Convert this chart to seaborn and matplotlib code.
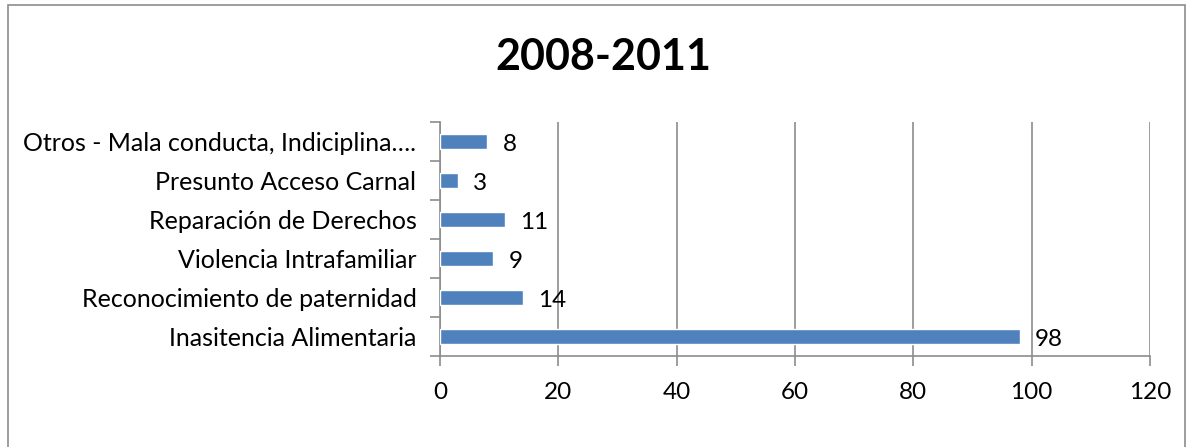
import numpy as np
import pandas as pd
import matplotlib
matplotlib.use("Agg")
import matplotlib.pyplot as plt
import seaborn as sns
from matplotlib.patches import Rectangle

categories = [
    "Otros - Mala conducta, Indiciplina….",
    "Presunto Acceso Carnal",
    "Reparación de Derechos",
    "Violencia Intrafamiliar",
    "Reconocimiento de paternidad",
    "Inasitencia Alimentaria",
]
values = [8, 3, 11, 9, 14, 98]
xticks = [0, 20, 40, 60, 80, 100, 120]
title = "2008-2011"

sns.set_style("white")
plt.rcParams["font.family"] = ["Lato", "DejaVu Sans"]
plt.rcParams["text.color"] = "black"
plt.rcParams["xtick.labelcolor"] = "black"
plt.rcParams["ytick.labelcolor"] = "black"

df = pd.DataFrame({"cat": categories, "val": values})

fig = plt.figure(figsize=(11.87, 4.47), dpi=100)
ax = fig.add_axes([440 / 1187, 1 - 356 / 447, 710 / 1187, 234 / 447])

sns.barplot(data=df, x="val", y="cat", color="#4F81BD", width=0.4,
            saturation=1, ax=ax, zorder=3)

ax.set_xlim(0, 120)
ax.set_xticks(xticks)
ax.set_xlabel("")
ax.set_ylabel("")
ax.grid(axis="x", color="#8c8c8c", linewidth=1.2, zorder=0)
ax.grid(axis="y", visible=False)

for s in ["top", "right"]:
    ax.spines[s].set_visible(False)
for s in ["left", "bottom"]:
    ax.spines[s].set_color("#8c8c8c")
    ax.spines[s].set_linewidth(1.2)

ax.tick_params(axis="x", direction="out", length=7, width=1.2, color="#8c8c8c",
               labelsize=17.5, pad=12, bottom=True)
ax.tick_params(axis="y", which="major", length=0, labelsize=18, pad=17)
n = len(categories)
ax.set_yticks(np.arange(-0.5, n, 1), minor=True)
ax.tick_params(axis="y", which="minor", direction="out", length=7, width=1.2,
               color="#8c8c8c", left=True)

for i, v in enumerate(values):
    ax.annotate(str(v), xy=(v, i), xytext=(11, -2), textcoords="offset points",
                ha="left", va="center", fontsize=17.5, color="black")

fig.text(603 / 1187, 1 - 57 / 447, title, ha="center", va="center",
         fontsize=31, fontweight="bold", color="black")

fig.patches.append(Rectangle((8 / 1187, -0.1), 1177 / 1187, 1.1 - 5 / 447,
                             transform=fig.transFigure, fill=False,
                             edgecolor="#8c8c8c", linewidth=1.2))

fig.savefig("out.png", dpi=100)
